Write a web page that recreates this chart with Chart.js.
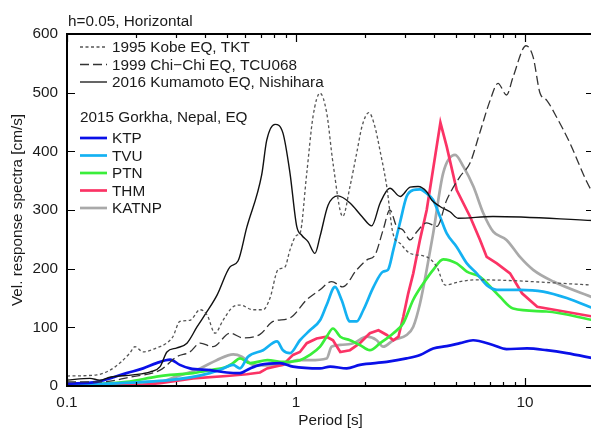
<!DOCTYPE html>
<html>
<head>
<meta charset="utf-8">
<script src="https://cdn.jsdelivr.net/npm/chart.js@4"></script>
<style>
  html, body { margin: 0; padding: 0; background: #fff; overflow: hidden; width: 591px; height: 430px; }
  canvas { display: block; }
</style>
</head>
<body>
<!-- the plot frame runs slightly past the right edge of the picture, as in the source figure -->
<canvas id="chart" width="594" height="430"></canvas>
<script>
// periods [s] and velocity response spectra [cm/s]
const kobeP = [0.1, 0.135, 0.154, 0.17, 0.188, 0.198, 0.215, 0.246, 0.272, 0.29, 0.311, 0.344, 0.381, 0.409, 0.443, 0.48, 0.531, 0.569, 0.649, 0.718, 0.77, 0.834, 0.895, 0.941, 1.007, 1.04, 1.114, 1.186, 1.273, 1.362, 1.45, 1.6, 1.72, 1.84, 1.94, 2.08, 2.21, 2.33, 2.49, 2.65, 2.85, 3.15, 3.72, 4.12, 4.48, 5.2, 6.15, 20];
const kobeV = [17, 19, 27, 39, 56, 67, 58, 65, 73, 84, 110, 112, 130, 121, 90, 112, 135, 138, 130, 130, 150, 198, 203, 232, 257, 260, 363, 459, 499, 465, 380, 289, 340, 397, 442, 466, 442, 400, 340, 260, 243, 226, 220, 203, 172, 178, 181, 172];

const chichiP = [0.1, 0.139, 0.194, 0.255, 0.302, 0.344, 0.381, 0.434, 0.515, 0.587, 0.696, 0.794, 0.941, 1.114, 1.273, 1.43, 1.6, 1.84, 2.04, 2.21, 2.4, 2.57, 2.75, 2.93, 3.15, 3.37, 3.72, 4.12, 4.55, 5.2, 5.75, 6.36, 7.04, 7.62, 8.3, 8.87, 10.1, 10.84, 11.63, 12.44, 13.7, 15.7, 18.6, 20];
const chichiV = [7, 7, 16, 27, 50, 58, 73, 67, 90, 82, 88, 110, 116, 147, 164, 178, 169, 198, 215, 223, 266, 300, 272, 266, 249, 263, 278, 272, 317, 357, 380, 433, 487, 516, 496, 527, 580, 561, 499, 487, 459, 414, 348, 325];

const kumaP = [0.1, 0.126, 0.139, 0.154, 0.194, 0.231, 0.255, 0.273, 0.302, 0.334, 0.37, 0.409, 0.452, 0.515, 0.558, 0.609, 0.708, 0.745, 0.81, 0.877, 0.941, 1.007, 1.059, 1.128, 1.21, 1.273, 1.38, 1.525, 1.72, 1.94, 2.14, 2.33, 2.57, 2.85, 3.15, 3.41, 3.72, 3.91, 4.25, 4.7, 5.1, 7.24, 20];
const kumaV = [10, 13, 10, 15, 19, 24, 33, 58, 65, 73, 101, 127, 155, 203, 213, 270, 360, 419, 446, 431, 363, 272, 257, 246, 226, 255, 308, 324, 312, 289, 273, 312, 337, 323, 339, 340, 331, 317, 306, 297, 286, 289, 282];

const ktpP = [0.1, 0.135, 0.154, 0.182, 0.215, 0.246, 0.282, 0.311, 0.344, 0.421, 0.498, 0.569, 0.63, 0.696, 0.851, 0.97, 1.273, 1.41, 1.665, 1.9, 2.49, 3.04, 3.48, 3.97, 4.55, 5.2, 5.93, 7.24, 8.3, 10.2, 12.4, 15.2, 20];
const ktpV = [4, 7, 13, 22, 30, 39, 45, 36, 30, 27, 23, 22, 30, 36, 39, 33, 30, 33, 30, 36, 41, 47, 53, 64, 68, 73, 78, 70, 63, 64, 61, 56, 47];

const tvuP = [0.1, 0.15, 0.28, 0.35, 0.42, 0.47, 0.531, 0.569, 0.617, 0.718, 0.826, 0.877, 0.941, 1.04, 1.15, 1.273, 1.36, 1.48, 1.58, 1.72, 1.84, 1.97, 2.18, 2.4, 2.52, 2.66, 2.85, 3.04, 3.25, 3.48, 3.72, 3.97, 4.25, 4.55, 5.03, 5.57, 6.15, 6.8, 7.53, 9.5, 12.0, 15.2, 20];
const tvuV = [2, 4, 10, 15, 22, 28, 36, 30, 50, 61, 76, 61, 56, 78, 95, 112, 138, 169, 147, 110, 110, 130, 169, 195, 198, 232, 280, 323, 334, 335, 328, 317, 289, 260, 237, 209, 192, 172, 164, 164, 161, 150, 132];

const ptnP = [0.1, 0.182, 0.246, 0.282, 0.355, 0.421, 0.498, 0.53, 0.57, 0.63, 0.75, 0.88, 1.04, 1.15, 1.273, 1.36, 1.45, 1.56, 1.72, 1.9, 2.1, 2.33, 2.66, 2.94, 3.25, 3.6, 3.97, 4.39, 5.03, 5.57, 6.36, 7.26, 7.77, 8.87, 12.4, 20];
const ptnV = [1, 7, 16, 19, 22, 27, 33, 39, 47, 39, 44, 41, 44, 53, 67, 84, 98, 84, 78, 70, 61, 73, 90, 107, 147, 175, 198, 216, 209, 195, 186, 164, 152, 132, 127, 112];

const thmP = [0.1, 0.215, 0.255, 0.355, 0.498, 0.609, 0.696, 0.747, 0.877, 0.97, 1.04, 1.114, 1.23, 1.36, 1.45, 1.56, 1.72, 1.9, 2.1, 2.29, 2.49, 2.66, 2.8, 2.94, 3.09, 3.25, 3.48, 3.72, 4.27, 4.55, 5.03, 5.75, 6.36, 6.8, 7.53, 8.6, 9.7, 11.3, 20];
const thmV = [0.5, 2, 5, 13, 17, 20, 23, 30, 36, 53, 58, 73, 81, 84, 78, 58, 61, 73, 90, 95, 87, 78, 84, 118, 158, 192, 250, 300, 449, 408, 334, 289, 249, 220, 209, 192, 158, 135, 118];

const katnpP = [0.1, 0.15, 0.255, 0.3, 0.381, 0.45, 0.532, 0.58, 0.65, 0.747, 0.877, 1.01, 1.15, 1.36, 1.43, 1.56, 1.78, 2.04, 2.25, 2.4, 2.66, 3.04, 3.25, 3.48, 3.72, 3.97, 4.39, 4.95, 5.38, 5.95, 6.58, 7.26, 8.3, 9.5, 10.85, 13.3, 20];
const katnpV = [1, 3, 7, 16, 30, 44, 54, 50, 36, 35, 36, 44, 44, 47, 67, 70, 73, 84, 78, 67, 78, 87, 101, 141, 198, 260, 363, 394, 374, 340, 294, 263, 249, 220, 198, 178, 150];

const xTickLabels = ['0.1', '1', '10'];
const yTicks = [0, 100, 200, 300, 400, 500, 600];

const FONT = "'Liberation Sans', Arial, Helvetica, sans-serif";
const FS = 15.3;
const TXT = '#1a1a1a';

const pts = (P, V) => P.map((p, i) => ({ x: p, y: V[i] }));

function series(label, P, V, color, width, dash, group, tension) {
  return {
    label, data: pts(P, V), borderColor: color, backgroundColor: color,
    borderWidth: width, borderDash: dash, pointRadius: 0, fill: false,
    cubicInterpolationMode: tension === 0 ? 'default' : 'monotone', tension: 0,
    group,
  };
}

const datasets = [
  series('1995 Kobe EQ, TKT', kobeP, kobeV, '#555555', 1.3, [3, 2.5], 'ref'),
  series('1999 Chi\u2212Chi EQ, TCU068', chichiP, chichiV, '#333333', 1.3, [9, 4], 'ref'),
  series('2016 Kumamoto EQ, Nishihara', kumaP, kumaV, '#111111', 1.4, [], 'ref'),
  series('KTP', ktpP, ktpV, '#0a10e8', 2.7, [], 'nepal'),
  series('TVU', tvuP, tvuV, '#14b1f2', 2.7, [], 'nepal'),
  series('PTN', ptnP, ptnV, '#3aee3a', 2.7, [], 'nepal'),
  series('THM', thmP, thmV, '#fb3365', 2.7, [], 'nepal', 0),
  series('KATNP', katnpP, katnpV, '#a9a9a9', 2.7, [], 'nepal'),
];

// frame with inward ticks, title text and the legend block
const decor = {
  id: 'decor',
  afterDraw(chart) {
    const { ctx, chartArea: a, scales: { x, y } } = chart;
    ctx.save();
    ctx.strokeStyle = '#000';
    ctx.lineWidth = 1.2;
    ctx.setLineDash([]);
    ctx.beginPath();
    // x ticks: majors at decades, minors in between, bottom and top
    for (let d = 0.1; d < 30; d *= 10) {
      for (let m = 1; m <= 9; m++) {
        const v = d * m;
        if (v < 0.1 || v > 20) continue;
        const px = Math.round(x.getPixelForValue(v)) + 0.5;
        const len = m === 1 ? 8 : 4;
        ctx.moveTo(px, a.bottom); ctx.lineTo(px, a.bottom - len);
        ctx.moveTo(px, a.top); ctx.lineTo(px, a.top + len);
      }
    }
    yTicks.forEach(v => {
      const py = Math.round(y.getPixelForValue(v)) + 0.5;
      ctx.moveTo(a.left, py); ctx.lineTo(a.left + 8, py);
      ctx.moveTo(a.right, py); ctx.lineTo(a.right - 8, py);
    });
    ctx.stroke();
    ctx.lineWidth = 2;
    ctx.strokeRect(a.left, a.top, a.right - a.left, a.bottom - a.top);

    ctx.fillStyle = TXT;
    ctx.font = `${FS}px ${FONT}`;
    ctx.textBaseline = 'alphabetic';
    ctx.textAlign = 'left';
    ctx.fillText('h=0.05, Horizontal', 68, 26);

    // legend
    const rows = [47, 64.5, 82, 138, 155.5, 173, 190.5, 208];
    ctx.textBaseline = 'middle';
    chart.data.datasets.forEach((ds, i) => {
      const ry = rows[i];
      ctx.beginPath();
      ctx.strokeStyle = ds.borderColor;
      ctx.lineWidth = ds.group === 'ref' ? 1.3 : 2.7;
      ctx.setLineDash(ds.borderDash);
      ctx.moveTo(80, ry); ctx.lineTo(107, ry);
      ctx.stroke();
      ctx.setLineDash([]);
      ctx.fillText(ds.label, 112, ry + 1);
    });
    ctx.fillText('2015 Gorkha, Nepal, EQ', 80, 118);
    ctx.restore();
  },
};

new Chart(document.getElementById('chart'), {
  type: 'line',
  data: { datasets },
  options: {
    responsive: false,
    animation: false,
    devicePixelRatio: 1,
    layout: { padding: { top: 34, right: 0, left: 0, bottom: 0 } },
    plugins: { legend: { display: false }, tooltip: { enabled: false } },
    scales: {
      x: {
        type: 'logarithmic', min: 0.1, max: 20,
        grid: { display: false }, border: { display: false },
        afterFit: (s) => { s.height = 44; s.paddingRight = 0; s.paddingLeft = 0; },
        ticks: {
          autoSkip: false, maxRotation: 0, padding: 0, color: TXT,
          font: { family: FONT, size: FS },
          callback: (v) => {
            const t = String(Number(v.toPrecision(3)));
            return xTickLabels.includes(t) ? t : '';
          },
        },
        title: { display: true, text: 'Period [s]', color: TXT, font: { family: FONT, size: FS }, padding: { top: 0, bottom: 0 } },
      },
      y: {
        min: 0, max: 600,
        grid: { display: false }, border: { display: false },
        afterFit: (s) => { s.width = 67; s.paddingTop = 0; s.paddingBottom = 0; },
        afterBuildTicks: (s) => { s.ticks = yTicks.map(v => ({ value: v })); },
        ticks: { padding: 1, color: TXT, font: { family: FONT, size: FS } },
        title: { display: true, text: 'Vel. response spectra [cm/s]', color: TXT, font: { family: FONT, size: FS }, padding: { top: 9, bottom: 0 } },
      },
    },
  },
  plugins: [decor],
});
</script>
</body>
</html>
